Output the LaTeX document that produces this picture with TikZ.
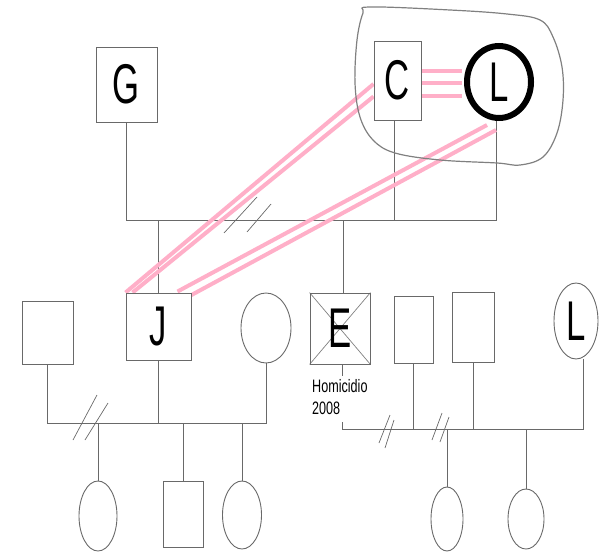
\documentclass[tikz,border=0pt]{standalone}
\usepackage{graphicx}
\usepackage{fontspec}
\setmainfont{Liberation Sans}
\usetikzlibrary{shapes.geometric}
\pgfdeclarelayer{bg}
\pgfsetlayers{bg,main}
\definecolor{ln}{RGB}{105,105,105}
\definecolor{pk}{RGB}{255,175,200}
\newcommand{\biglet}[1]{\fontsize{56}{60}\selectfont\scalebox{0.62}[1]{#1}}
\begin{document}
\begin{tikzpicture}[x=1pt,y=1pt,
  pbox/.style={draw=ln, line width=0.9pt, fill=white, rectangle, inner sep=0pt},
  pell/.style={draw=ln, line width=0.9pt, fill=white, ellipse, inner sep=0pt},
  conn/.style={draw=ln, line width=0.9pt},
  pinkline/.style={draw=pk, line width=4pt},
  slash/.style={draw=ln, line width=0.7pt},
  cloud/.style={draw=gray, line width=1.2pt}]
\useasboundingbox (0,0) rectangle (599,-553);
% cloud
\draw[cloud] plot[smooth cycle, tension=0.6] coordinates {(370,-7) (450,-10) (507,-14) (540,-20) (553,-37) (562,-67) (563,-100) (557,-133) (543,-157) (520,-165) (497,-163) (440,-160) (395,-153) (373,-140) (360,-117) (355,-83) (357,-40) (363,-13)};
% generation 1
\node[pbox, minimum width=61pt, minimum height=75pt] (G) at (126.5,-84.5) {\biglet{G}};
\node[pbox, minimum width=47pt, minimum height=79pt] (C) at (397.5,-80.5) {\biglet{C}};
\node[pell, draw=black, line width=6pt, minimum width=64pt, minimum height=72pt] (L) at (499,-82) {\biglet{L}};
% generation 2
\node[pbox, minimum width=51pt, minimum height=63pt] (S1) at (47.5,-332.5) {};
\node[pbox, minimum width=65pt, minimum height=67pt] (J) at (158.5,-326.5) {\biglet{J}};
\node[pell, minimum width=50pt, minimum height=70pt] (W1) at (266,-328) {};
\node[pbox, fill=none, minimum width=60pt, minimum height=71pt] (E) at (340,-328.5) {\biglet{E}};
\node[pbox, minimum width=39pt, minimum height=67pt] (R1) at (413.5,-329.5) {};
\node[pbox, minimum width=42pt, minimum height=70pt] (R2) at (473,-327) {};
\node[pell, minimum width=44pt, minimum height=76pt] (L2) at (576,-321) {\biglet{L}};
\node[fill=white, inner sep=1pt, anchor=north west, font=\fontsize{18}{22}\selectfont] (H) at (311,-376) {\scalebox{0.7}[1]{\begin{tabular}{@{}l@{}}Homicidio\\2008\end{tabular}}};
% generation 3
\node[pell, minimum width=38pt, minimum height=70pt] (K1) at (98,-516) {};
\node[pbox, minimum width=40pt, minimum height=66pt] (K2) at (183.5,-514) {};
\node[pell, minimum width=39pt, minimum height=68pt] (K3) at (242,-515) {};
\node[pell, minimum width=32pt, minimum height=64pt] (K4) at (447,-519) {};
\node[pell, minimum width=36pt, minimum height=60pt] (K5) at (526,-519) {};
% helper coordinates
\coordinate (top) at (0,-220);
\coordinate (bl) at (0,-423);
\coordinate (br) at (0,-429);
\begin{pgfonlayer}{bg}
% E crossed out
\draw[draw=gray, line width=0.7pt] (E.north west) -- (E.south east) (E.north east) -- (E.south west);
% top family
\draw[conn] (G.south) |- ([xshift=-3pt]L.south |- top) -- ([xshift=-3pt]L.south);
\draw[conn] ([xshift=-3pt]C.south) -- ([xshift=-3pt]C.south |- top);
\draw[conn] (J.north) -- (J.north |- top);
\draw[conn] ([xshift=3pt]E.north) -- ([xshift=3pt]E.north |- top);
% lower left family
\draw[conn] (S1.south) |- (W1.south |- bl) -- (W1.south);
\draw[conn] (J.south) -- (J.south |- bl);
\draw[conn] (K1.north |- bl) -- (K1.north);
\draw[conn] (K2.north |- bl) -- (K2.north);
\draw[conn] (K3.north |- bl) -- (K3.north);
% lower right family
\draw[conn] ([xshift=2pt]E.south) |- ([xshift=7pt]L2.south |- br) -- ([xshift=7pt]L2.south);
\draw[conn] (R1.south) -- (R1.south |- br);
\draw[conn] (R2.south) -- (R2.south |- br);
\draw[conn] (K4.north |- br) -- (K4.north);
\draw[conn] (K5.north |- br) -- (K5.north);
% pink relation lines
\draw[pinkline] ([yshift=9.5pt]C.east) -- ([yshift=9.5pt,xshift=-2pt]C.east -| L.west);
\draw[pinkline] ([yshift=-2.5pt]C.east) -- ([yshift=-2.5pt,xshift=-2pt]C.east -| L.west);
\draw[pinkline] ([yshift=-15.5pt]C.east) -- ([yshift=-15.5pt,xshift=-2pt]C.east -| L.west);
\draw[pinkline] ([yshift=-3.5pt]C.west) -- (J.north west);
\draw[pinkline] ([yshift=-16pt]C.west) -- ([xshift=7pt]J.north west);
\draw[pinkline] ([xshift=-12pt,yshift=-4pt]L.south) -- ([xshift=-14pt,yshift=1pt]J.north east);
\draw[pinkline] ([xshift=-3pt,yshift=-9pt]L.south) -- ([xshift=-1pt,yshift=-3pt]J.north east);
\end{pgfonlayer}
% divorce slashes
\draw[slash] (224,-233) -- (257,-197);
\draw[slash] (247,-232) -- (271,-204);
\draw[slash] (73,-440) -- (97,-395);
\draw[slash] (85,-440) -- (108,-403);
\draw[slash] (379,-443) -- (390,-415);
\draw[slash] (385,-448) -- (394,-420);
\draw[slash] (432,-440) -- (442,-413);
\draw[slash] (440,-442) -- (449,-417);
\end{tikzpicture}
\end{document}
